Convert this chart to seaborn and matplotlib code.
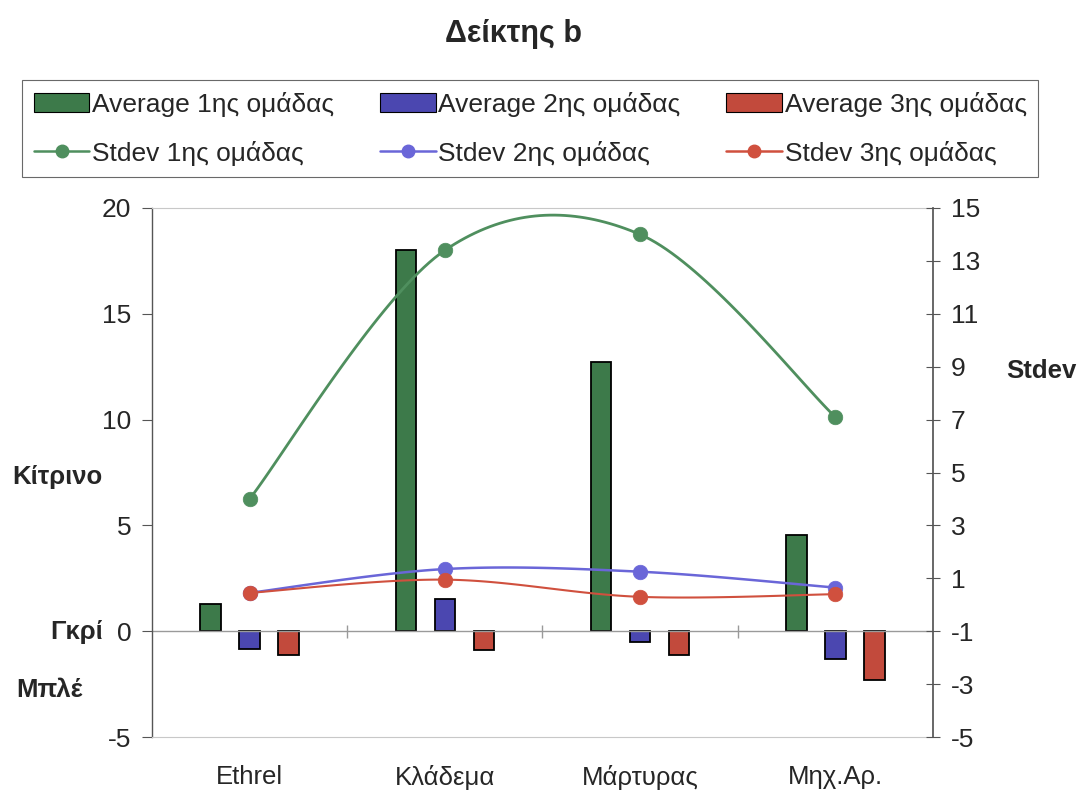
import numpy as np
import pandas as pd
import matplotlib
matplotlib.use("Agg")
import matplotlib.pyplot as plt
import seaborn as sns
from matplotlib.patches import Patch
from matplotlib.lines import Line2D

categories = ["Ethrel", "Κλάδεμα", "Μάρτυρας", "Μηχ.Αρ."]
groups = ["1ης ομάδας", "2ης ομάδας", "3ης ομάδας"]
avg_1 = [1.3, 18.0, 12.7, 4.55]
avg_2 = [-0.85, 1.5, -0.5, -1.3]
avg_3 = [-1.1, -0.9, -1.1, -2.3]
std_1 = [4.0, 13.4, 14.0, 7.1]
std_2 = [0.45, 1.35, 1.25, 0.65]
std_3 = [0.45, 0.95, 0.3, 0.4]

bar_colors = ["#3d7a4a", "#4b47b0", "#c24a3c"]
line_colors = ["#4f8f5e", "#6a66d8", "#d0503e"]

sns.set_theme(style="white")
plt.rcParams["font.family"] = ["Liberation Sans", "DejaVu Sans"]
plt.rcParams["axes.unicode_minus"] = False

fig = plt.figure(figsize=(10.88, 7.92), dpi=100)
ax = fig.add_axes([0.1397, 0.0694, 0.7178, 0.6680])

df = pd.DataFrame({
    "cat": categories * 3,
    "grp": [g for g in groups for _ in categories],
    "val": avg_1 + avg_2 + avg_3,
})
sns.barplot(data=df, x="cat", y="val", hue="grp", order=categories,
            hue_order=groups, palette=bar_colors, width=0.6, ax=ax,
            edgecolor="black", linewidth=1.3, legend=False, saturation=1)
# narrow the bars around their centres
for p in ax.patches:
    c = p.get_x() + p.get_width() / 2
    p.set_width(0.105)
    p.set_x(c - 0.0525)

ax.set_xlim(-0.5, 3.5)
ax.set_ylim(-5, 20)
ax.set_yticks([-5, 0, 5, 10, 15, 20])
ax.set_xlabel("")
ax.set_ylabel("")
ax.axhline(0, color="#9a9a9a", lw=1.0, zorder=1)
ax.vlines([0.5, 1.5, 2.5], -0.3, 0.3, color="#9a9a9a", lw=1.0, zorder=1)
ax.tick_params(axis="y", direction="out", length=7, width=0.8, color="#555555",
               labelsize=19, pad=8)
ax.tick_params(axis="x", length=0, labelsize=18.5, pad=20)
ax.spines["left"].set_color("#555555")
ax.spines["left"].set_linewidth(1.0)
for s in ["top", "bottom"]:
    ax.spines[s].set_color("#c8c8c8")
    ax.spines[s].set_linewidth(0.8)
ax.spines["right"].set_visible(False)

ax2 = ax.twinx()
ax2.set_ylim(-5, 15)
ax2.set_yticks(list(range(-5, 16, 2)))
ax2.tick_params(axis="y", direction="inout", length=10, width=0.8,
                color="#555555", labelsize=19, pad=8)
ax2.spines["right"].set_color("#555555")
for s in ["left", "top", "bottom"]:
    ax2.spines[s].set_visible(False)


def smooth(xs, ys, n=40):
    # Excel-style smoothed line (Catmull-Rom Bezier segments)
    P = np.column_stack([xs, ys]).astype(float)
    out = []
    for i in range(len(P) - 1):
        p0 = P[i - 1] if i > 0 else P[i]
        p1, p2 = P[i], P[i + 1]
        p3 = P[i + 2] if i + 2 < len(P) else P[i + 1]
        c1 = p1 + (p2 - p0) / 6
        c2 = p2 - (p3 - p1) / 6
        t = np.linspace(0, 1, n)[:, None]
        seg = ((1 - t) ** 3) * p1 + 3 * ((1 - t) ** 2) * t * c1 + \
              3 * (1 - t) * t ** 2 * c2 + t ** 3 * p2
        out.append(seg if i == 0 else seg[1:])
    return np.vstack(out)


xpos = np.arange(len(categories))
for vals, col, lw in zip([std_1, std_2, std_3], line_colors, [2.0, 1.8, 1.5]):
    curve = smooth(xpos, vals)
    sns.lineplot(x=curve[:, 0], y=curve[:, 1], sort=False, color=col,
                 lw=lw, ax=ax2, zorder=3)
    sns.scatterplot(x=xpos, y=vals, color=col, s=110, edgecolor=col,
                    linewidth=0.5, ax=ax2, zorder=4)
ax2.set_xlim(-0.5, 3.5)

fig.text(0.472, 0.957, "Δείκτης b", ha="center", va="center",
         fontsize=22, fontweight="bold")
fig.text(0.053, 0.398, "Κίτρινο", ha="center", va="center", fontsize=18.5,
         fontweight="bold")
fig.text(0.070, 0.202, "Γκρί", ha="center", va="center", fontsize=18.5,
         fontweight="bold")
fig.text(0.045, 0.129, "Μπλέ", ha="center", va="center", fontsize=18.5,
         fontweight="bold")
fig.text(0.957, 0.532, "Stdev", ha="center", va="center", fontsize=18.5,
         fontweight="bold")

handles, labels = [], []
for g, bc, lc in zip(groups, bar_colors, line_colors):
    handles.append(Patch(facecolor=bc, edgecolor="black", linewidth=0.8))
    labels.append("Average " + g)
    handles.append(Line2D([0], [0], color=lc, lw=1.8, marker="o",
                          markersize=9))
    labels.append("Stdev " + g)
leg = fig.legend(handles, labels, ncol=3, loc="upper left",
                 bbox_to_anchor=(0.0202, 0.899), borderaxespad=0,
                 fontsize=19, frameon=True,
                 fancybox=False, edgecolor="#444444", handlelength=2.1,
                 handletextpad=0.1, columnspacing=1.75, labelspacing=0.9,
                 borderpad=0.45)
leg.get_frame().set_linewidth(0.8)

fig.savefig("out.png", dpi=100, facecolor="white")
